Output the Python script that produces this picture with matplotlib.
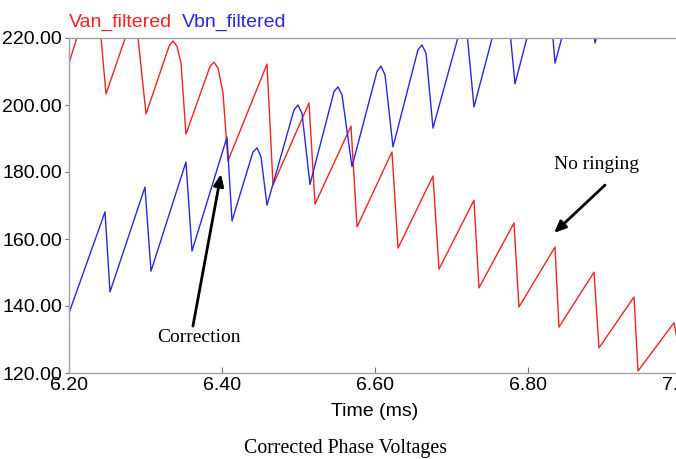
import matplotlib
matplotlib.use("Agg")
import matplotlib.pyplot as plt

# Time (ms) / voltage vertices
van_t = [6.2000, 6.2348, 6.2484, 6.2863, 6.3007, 6.3307, 6.3359, 6.3412, 6.3464, 6.3529,
         6.3843, 6.3895, 6.3948, 6.4013, 6.4078, 6.4588, 6.4667, 6.5137, 6.5216,
         6.5686, 6.5765, 6.6222, 6.6301, 6.6758, 6.6837, 6.7294, 6.7359, 6.7817, 6.7882,
         6.8353, 6.8405, 6.8863, 6.8928, 6.9386, 6.9438, 6.9908, 6.9974]
van_v = [212.5, 238.0, 203.3, 228.5, 197.3, 217.5, 219.1, 217.5, 212.5, 191.3,
         211.5, 212.8, 211.0, 203.6, 183.3, 212.2, 176.1, 200.6, 170.4,
         193.7, 163.6, 186.0, 157.3, 178.8, 151.0, 171.6, 145.4, 164.8, 139.7,
         157.6, 133.7, 150.1, 127.5, 142.7, 120.6, 135.0, 127.0]

vbn_t = [6.2000, 6.2471, 6.2536, 6.2993, 6.3072, 6.3529, 6.3608, 6.4065, 6.4131,
         6.4405, 6.4458, 6.4510, 6.4588, 6.4941, 6.4993, 6.5046, 6.5150,
         6.5464, 6.5516, 6.5569, 6.5699, 6.6026, 6.6078, 6.6131, 6.6235,
         6.6562, 6.6614, 6.6667, 6.6758, 6.7137, 6.7203, 6.7294, 6.7647, 6.7752, 6.7830,
         6.8157, 6.8301, 6.8353, 6.8654, 6.8824, 6.8876, 6.9098]
vbn_v = [137.9, 168.1, 144.2, 175.5, 150.4, 183.0, 156.4, 190.4, 165.4,
         186.0, 187.2, 184.5, 170.1, 198.5, 200.0, 197.5, 176.3,
         204.0, 205.4, 203.0, 181.6, 210.0, 211.6, 209.0, 187.5,
         216.5, 217.9, 215.5, 193.1, 224.5, 221.5, 199.4, 230.0, 225.0, 206.3,
         235.0, 227.0, 212.5, 238.0, 228.0, 218.5, 238.0]

x_ticks = [6.2, 6.4, 6.6, 6.8, 7.0]
y_ticks = [120, 140, 160, 180, 200, 220]

W, H = 676, 459
fig = plt.figure(figsize=(W / 100, H / 100), dpi=100)
ax = fig.add_axes([69 / W, (H - 373) / H, 612 / W, 335 / H])

ax.plot(van_t, van_v, color="#f02424", lw=1.0)
ax.plot(vbn_t, vbn_v, color="#2828e0", lw=1.0)

ax.set_xlim(6.2, 7.0)
ax.set_ylim(120, 220)
ax.set_xticks(x_ticks)
ax.set_yticks(y_ticks)
ax.set_xticklabels([f"{v:.2f}" for v in x_ticks])
ax.set_yticklabels([f"{v:.2f}" for v in y_ticks])

sans = ["Liberation Sans", "DejaVu Sans"]
serif = ["Liberation Serif", "DejaVu Serif"]
for lab in ax.get_xticklabels() + ax.get_yticklabels():
    lab.set_family(sans)
    lab.set_fontsize(14)
ax.tick_params(axis="x", direction="in", length=4, color="#9060b0", pad=3)
ax.tick_params(axis="y", direction="out", length=3, color="#9060b0", pad=2)
for s in ax.spines.values():
    s.set_color("#a0a0a8")
    s.set_linewidth(1.0)

fig.text(69 / W, 1 - 22 / H, "Van_filtered", color="#f02424", family=sans,
         fontsize=14, ha="left", va="center")
fig.text(182 / W, 1 - 22 / H, "Vbn_filtered", color="#2828e0", family=sans,
         fontsize=14, ha="left", va="center")

fig.text(375 / W, 1 - 412 / H, "Time (ms)", family=sans, fontsize=14,
         ha="center", va="center")
fig.text(345 / W, 1 - 448 / H, "Corrected Phase Voltages", family=serif,
         fontsize=14.3, ha="center", va="center")

arrow = dict(arrowstyle="-|>,head_length=0.7,head_width=0.3", lw=2,
             color="black", shrinkA=0, shrinkB=0)
ax.annotate("", xy=(6.3987, 179.4), xytext=(6.362, 134.0), arrowprops=arrow)
ax.text(6.37, 130.7, "Correction", family=serif, fontsize=14,
        ha="center", va="center")
ax.annotate("", xy=(6.834, 161.8), xytext=(6.9007, 176.1), arrowprops=arrow)
ax.text(6.89, 182.1, "No ringing", family=serif, fontsize=14,
        ha="center", va="center")

fig.savefig("out.png", dpi=100)
